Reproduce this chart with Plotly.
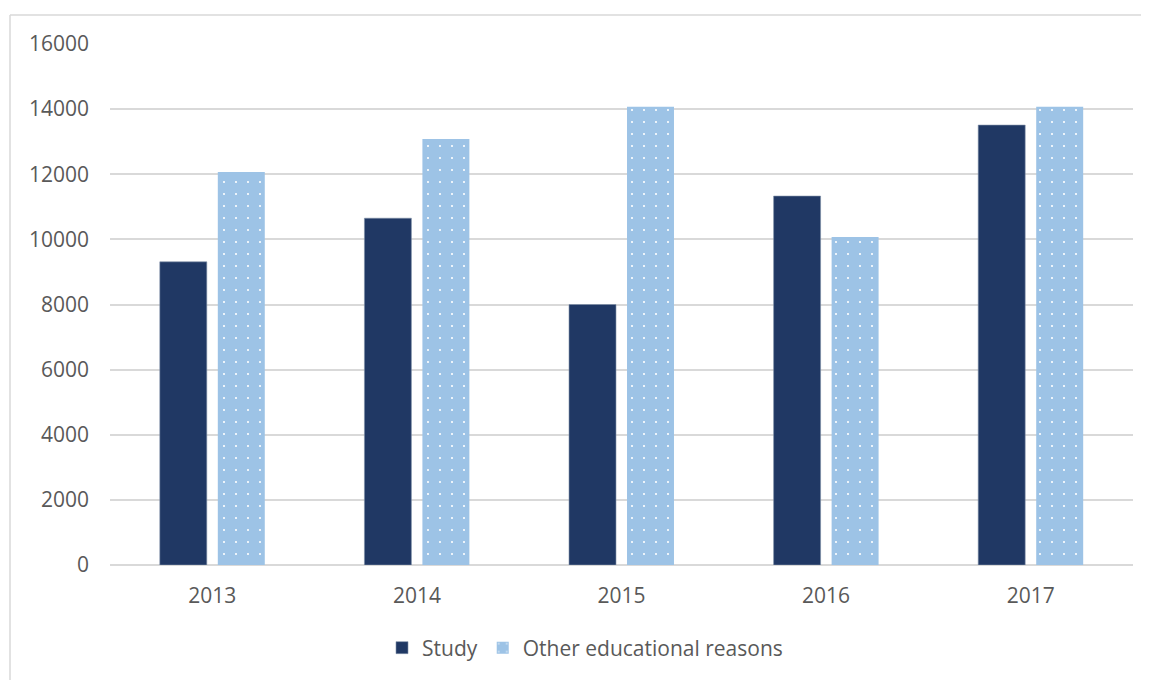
import plotly.graph_objects as go

years = ["2013", "2014", "2015", "2016", "2017"]
study = [9310, 10650, 8000, 11330, 13510]
other = [12070, 13080, 14070, 10070, 14070]
y_ticks = [0, 2000, 4000, 6000, 8000, 10000, 12000, 14000, 16000]

OFF = 8  # default page body margin
W, H = 1149 - OFF, 680 - OFF
L, R, T, B = 110 - OFF, 16, 44 - OFF, 115
pw, ph = W - L - R, H - T - B

def px2x(px):
    return (px - OFF - L) / pw

def py2y(py):
    return (H - B - (py - OFF)) / ph

fig = go.Figure()
fig.add_trace(go.Bar(
    x=years, y=study, name="Study",
    marker=dict(color="#203864", line=dict(width=0.6, color="#8090A8")),
))
fig.add_trace(go.Bar(
    x=years, y=other, name="Other educational reasons",
    marker=dict(color="#9DC3E6", line=dict(width=0),
                pattern=dict(shape=".", fgcolor="white", bgcolor="#9DC3E6",
                             size=12, solidity=0.025, fillmode="replace")),
))

font_fam = "Open Sans"
fig.update_layout(
    width=W, height=H,
    margin=dict(l=L, r=R, t=T, b=B, autoexpand=False),
    paper_bgcolor="white", plot_bgcolor="white",
    barmode="group", bargap=0.433, bargroupgap=0.19,
    font=dict(family=font_fam, size=21, color="#595959"),
    xaxis=dict(showgrid=False, showline=False, ticks="", tickfont=dict(size=21, color="#595959"),
               ticklabelstandoff=16),
    yaxis=dict(range=[0, 16000], tickvals=y_ticks, ticktext=[str(v) for v in y_ticks],
               showgrid=True, gridcolor="#D9D9D9", gridwidth=1.5,
               zeroline=True, zerolinecolor="#D9D9D9", zerolinewidth=1.5,
               showline=False, ticks="", tickfont=dict(size=21, color="#595959"),
               ticklabelstandoff=20),
    legend=dict(orientation="h", x=px2x(585), xanchor="center", y=py2y(648), yanchor="middle",
                font=dict(size=21, color="#595959"), itemwidth=30, traceorder="normal",
                bgcolor="rgba(0,0,0,0)"),
    showlegend=True,
    shapes=[
        dict(type="line", xref="paper", yref="paper", x0=px2x(10), x1=px2x(1149), y0=py2y(15), y1=py2y(15),
             line=dict(color="#D9D9D9", width=1.5)),
        dict(type="line", xref="paper", yref="paper", x0=px2x(10), x1=px2x(10), y0=py2y(15), y1=py2y(680),
             line=dict(color="#D9D9D9", width=1.5)),
    ],
)

fig.write_html("out.html")
